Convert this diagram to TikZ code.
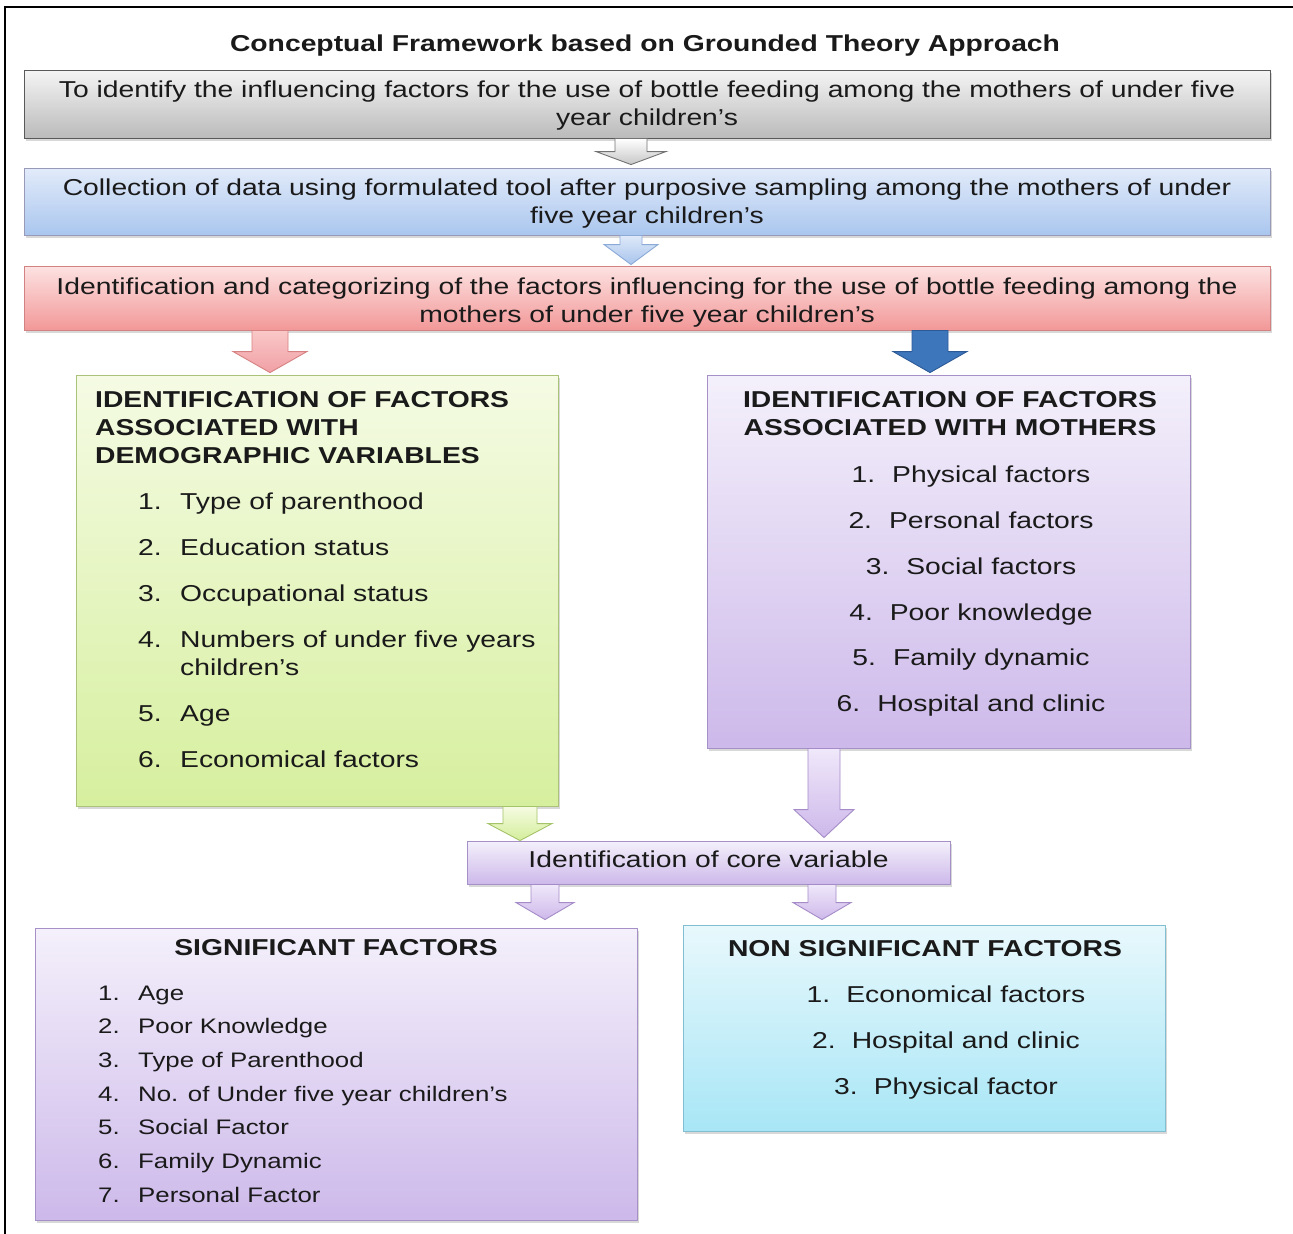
\documentclass[tikz,border=0pt]{standalone}
\usepackage{fontspec}
\setmainfont{Liberation Sans}[FakeStretch=1.23]
\usetikzlibrary{calc,shadows}
\definecolor{txt}{HTML}{1A1A1A}
\newcommand\barrow[6]{%
  \path[#1] let \p1=(#2), \p2=(#3) in
    (\x1-#4,\y1) -- (\x1+#4,\y1) -- (\x1+#4,\y2+#6) -- (\x1+#5,\y2+#6) --
    (\x1,\y2) -- (\x1-#5,\y2+#6) -- (\x1-#4,\y2+#6) -- cycle;}
\tikzset{
  lbl/.style={inner sep=0pt, text=txt, font=\fontsize{23}{28}\selectfont},
  clbl/.style={lbl, align=center},
  slbl/.style={inner sep=0pt, text=txt, font=\fontsize{21}{26}\selectfont},
  hlbl/.style={inner sep=0pt, text=txt, font=\bfseries\fontsize{23}{28}\selectfont},
  box/.style={draw, inner sep=0pt, line width=0.9pt, text=txt, align=center,
    font=\fontsize{23}{28}\selectfont,
    drop shadow={shadow xshift=2pt, shadow yshift=-2.5pt, opacity=0.3}},
  graybox/.style={box, draw=black!65, top color=black!4, bottom color=black!27},
  bluebox/.style={box, draw=blue!30!black!40, top color={rgb,255:red,226;green,235;blue,250}, bottom color={rgb,255:red,170;green,198;blue,238}},
  redbox/.style={box, draw={rgb,255:red,210;green,130;blue,130}, top color={rgb,255:red,253;green,226;blue,226}, bottom color={rgb,255:red,242;green,152;blue,152}},
  greenbox/.style={box, draw={rgb,255:red,170;green,195;blue,120}, top color={rgb,255:red,245;green,251;blue,228}, bottom color={rgb,255:red,214;green,239;blue,158}},
  purplebox/.style={box, draw={rgb,255:red,165;green,145;blue,200}, top color={rgb,255:red,244;green,240;blue,251}, bottom color={rgb,255:red,205;green,185;blue,234}},
  cyanbox/.style={box, draw={rgb,255:red,130;green,190;blue,210}, top color={rgb,255:red,232;green,248;blue,252}, bottom color={rgb,255:red,168;green,230;blue,246}},
  grayarr/.style={draw=black!55, line width=0.9pt, top color=white, bottom color=black!22},
  bluearr/.style={draw={rgb,255:red,140;green,170;blue,215}, line width=0.9pt, top color={rgb,255:red,222;green,233;blue,249}, bottom color={rgb,255:red,168;green,196;blue,236}},
  pinkarr/.style={draw={rgb,255:red,215;green,130;blue,130}, line width=0.9pt, top color={rgb,255:red,250;green,200;blue,200}, bottom color={rgb,255:red,240;green,160;blue,165}},
  darkarr/.style={draw={rgb,255:red,45;green,90;blue,150}, line width=0.9pt, fill={rgb,255:red,62;green,118;blue,188}},
  greenarr/.style={draw={rgb,255:red,165;green,195;blue,105}, line width=0.9pt, top color={rgb,255:red,245;green,251;blue,226}, bottom color={rgb,255:red,212;green,238;blue,155}},
  purplearr/.style={draw={rgb,255:red,165;green,140;blue,200}, line width=0.9pt, top color={rgb,255:red,240;green,232;blue,250}, bottom color={rgb,255:red,205;green,184;blue,234}},
}
\begin{document}
\begin{tikzpicture}[x=1pt,y=-1pt]
\useasboundingbox (0,0) rectangle (1293,1234);
\fill[white] (0,0) rectangle (1293,1234);
\draw[line width=1.6pt] (5,1234) -- (5,7) -- (1293,7);

% title
\node[hlbl, anchor=base] (title) at (645,51) {Conceptual Framework based on Grounded Theory Approach};

% top boxes
\node[graybox, minimum width=1246pt, minimum height=68pt] (b1) at (647,104) {};
\node[clbl] (b1t) at (647,106)
  {To identify the influencing factors for the use of bottle feeding among the mothers of under five\\ year children’s};
\node[bluebox, minimum width=1246pt, minimum height=67pt] (b2) at (647,201.5) {};
\node[clbl] (b2t) at (647,203.5)
  {Collection of data using formulated tool after purposive sampling among the mothers of under\\ five year children’s};
\node[redbox, minimum width=1246pt, minimum height=64pt] (b3) at (647,298) {};
\node[clbl] (b3t) at (647,302.5)
  {Identification and categorizing of the factors influencing for the use of bottle feeding among the\\ mothers of under five year children’s};

% middle boxes
\node[greenbox, minimum width=482pt, minimum height=431pt] (b4) at (317,590.5) {};
\node[purplebox, minimum width=483pt, minimum height=373pt] (b5) at (948.5,561.5) {};
\node[purplebox, minimum width=483pt, minimum height=43pt] (core) at (708.5,862.5) {};
\node[lbl, anchor=base] (coret) at (708.5,867) {Identification of core variable};
\node[purplebox, minimum width=602pt, minimum height=292pt] (sig) at (336,1074) {};
\node[cyanbox, minimum width=482pt, minimum height=206pt] (non) at (924,1028) {};

% arrows
\barrow{grayarr}{[xshift=-16pt]b1.south}{[yshift=3pt]b2.north}{16pt}{35pt}{13pt}
\barrow{bluearr}{[xshift=-16pt]b2.south}{[yshift=1pt]b3.north}{11pt}{27pt}{20pt}
\barrow{pinkarr}{[xshift=-377pt]b3.south}{[yshift=2pt]b4.north}{18pt}{37pt}{21pt}
\barrow{darkarr}{[xshift=283pt]b3.south}{[yshift=2pt]b5.north}{18pt}{37pt}{21pt}
\barrow{greenarr}{[xshift=203pt]b4.south}{core.north}{17pt}{32pt}{17pt}
\barrow{purplearr}{[xshift=-124.5pt]b5.south}{[yshift=3pt]core.north}{16pt}{30pt}{28pt}
\barrow{purplearr}{[xshift=-163.5pt]core.south}{[yshift=8pt]sig.north}{14pt}{29pt}{17pt}
\barrow{purplearr}{[xshift=113.5pt]core.south}{[yshift=5pt]non.north}{14pt}{29pt}{17pt}

% box 4 contents
\node[hlbl, anchor=base west] (h4a) at (95,407) {IDENTIFICATION OF FACTORS};
\node[hlbl, anchor=base west] (h4b) at (95,435) {ASSOCIATED WITH};
\node[hlbl, anchor=base west] (h4c) at (95,463) {DEMOGRAPHIC VARIABLES};
\foreach \y/\t [count=\i] in {501/Type of parenthood, 547/Education status, 593/Occupational status, 639/Numbers of under five years, 713/Age, 759/Economical factors} {
  \node[lbl, anchor=base west] (dn\i) at (138,\y+8) {\i.};
  \node[lbl, anchor=base west] (dt\i) at (180,\y+8) {\t};
}
\node[lbl, anchor=base west] (dt4b) at (180,675) {children’s};

% box 5 contents
\node[hlbl, anchor=base] (h5a) at (950,407) {IDENTIFICATION OF FACTORS};
\node[hlbl, anchor=base] (h5b) at (950,435) {ASSOCIATED WITH MOTHERS};
\foreach \y/\t [count=\i] in {474/Physical factors, 520/Personal factors, 566/Social factors, 612/Poor knowledge, 657/Family dynamic, 703/Hospital and clinic} {
  \node[lbl, anchor=base] (mt\i) at (971,\y+8) {\i.\hspace{17pt}\t};
}

% significant
\node[hlbl, anchor=base] (hs) at (336,955) {SIGNIFICANT FACTORS};
\foreach \y/\t [count=\i] in {993/Age, 1026/Poor Knowledge, 1060/Type of Parenthood, 1094/No. of Under five year children’s, 1127/Social Factor, 1161/Family Dynamic, 1195/Personal Factor} {
  \node[slbl, anchor=base west] (sn\i) at (98,\y+7.5) {\i.};
  \node[slbl, anchor=base west] (st\i) at (138,\y+7.5) {\t};
}

% non significant
\node[hlbl, anchor=base] (hn) at (925,956) {NON SIGNIFICANT FACTORS};
\foreach \y/\t [count=\i] in {994/Economical factors, 1040/Hospital and clinic, 1086/Physical factor} {
  \node[lbl, anchor=base] (nt\i) at (946,\y+8) {\i.\hspace{16pt}\t};
}
\end{tikzpicture}
\end{document}
